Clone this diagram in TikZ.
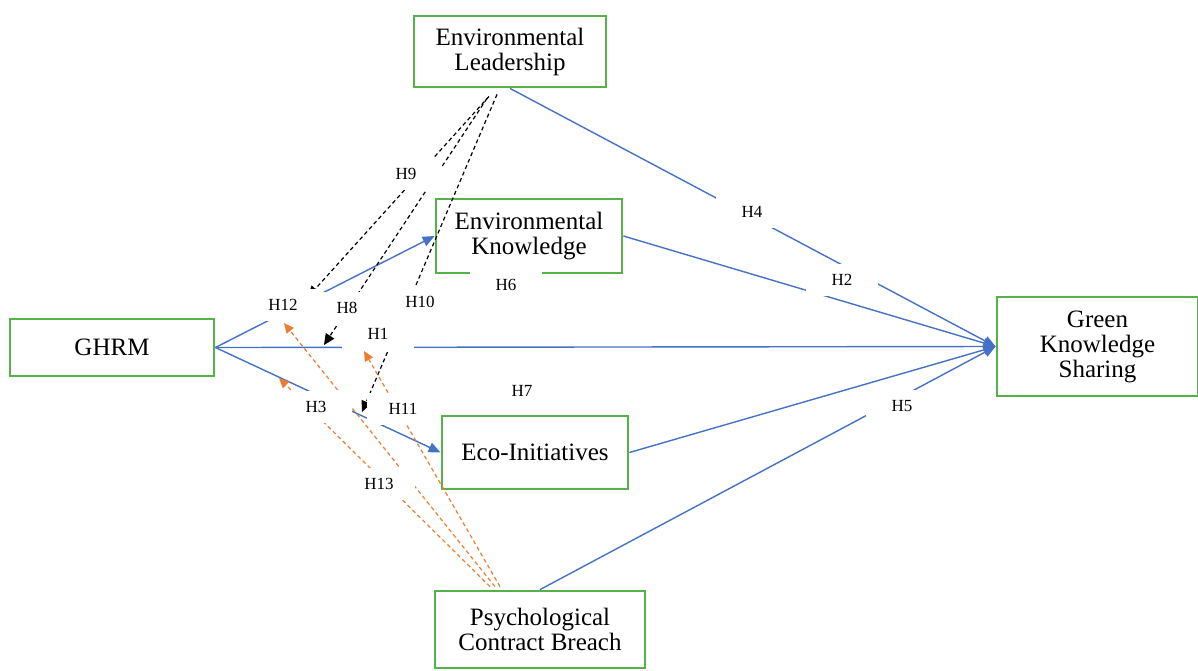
\documentclass[tikz,border=0pt]{standalone}
\usepackage{fontspec}
\setmainfont{Liberation Serif}
\usetikzlibrary{arrows.meta}

\definecolor{boxgreen}{RGB}{84,178,72}
\definecolor{linkblue}{RGB}{68,114,196}
\definecolor{modorange}{RGB}{237,125,49}

\begin{document}
\begin{tikzpicture}[x=0.5pt,y=-0.5pt,
		var/.style={draw=boxgreen,line width=1.4pt,fill=white,align=center,inner sep=2pt,font=\fontsize{12.5}{12.5}\selectfont},
		link/.style={draw=linkblue,line width=0.7pt,-{Triangle[length=6pt,width=5pt]}},
		modk/.style={draw=black,line width=0.6pt,dash pattern=on 2pt off 1.5pt,-{Triangle[length=5.5pt,width=5pt]}},
		modp/.style={draw=modorange,line width=0.6pt,dash pattern=on 2pt off 1.5pt,-{Triangle[length=5pt,width=4.5pt]}},
		hyp/.style={fill=white,minimum width=36pt,minimum height=16pt,inner sep=0pt,font=\fontsize{8.5}{10}\selectfont}]

			\useasboundingbox (0,0) rectangle (1198,670);

			\node[var,minimum width=96pt,minimum height=35.5pt] (el) at (510,51.5) {Environmental\\Leadership};
			\node[var,minimum width=93pt,minimum height=37pt] (ek) at (529,236) {Environmental\\Knowledge};
			\node[var,minimum width=102pt,minimum height=28.5pt] (ghrm) at (112,347.5) {GHRM};
			\node[var,minimum width=100.5pt,minimum height=49.5pt] (gks) at (1097.5,346.5) {Green\\Knowledge\\Sharing};
			\node[var,minimum width=93pt,minimum height=36.5pt] (ei) at (535,452.5) {Eco-Initiatives};
			\node[var,minimum width=105pt,minimum height=38.5pt] (pcb) at (540,629.5) {Psychological\\Contract Breach};

			\draw [link] (ghrm.east) -- (ek.west);
			\draw [link] (ghrm.east) -- (gks.west);
			\draw [link] (ghrm.east) -- (ei.west);
			\draw [link] (el.south) -- (gks.west);
			\draw [link] (ek.east) -- (gks.west);
			\draw [link] (ei.east) -- (gks.west);
			\draw [link] (pcb.north) -- (gks.west);

			\coordinate (ma) at (308,297);
			\coordinate (mb) at (324,345);
			\coordinate (mc) at (362,412);
			\coordinate (oa) at (284,323);
			\coordinate (ob) at (279,378);
			\coordinate (oc) at (364,351);

			\draw [modk] ([xshift=-10.5pt,yshift=-4pt]el.south) -- (ma);
			\draw [modk] ([xshift=-11.5pt,yshift=-5pt]el.south) -- (mb);
			\draw [modk] ([xshift=-6.5pt,yshift=-3pt]el.south) -- (mc);

			\draw [modp] ([xshift=-22.5pt,yshift=1.5pt]pcb.north) -- (oa);
			\draw [modp] ([xshift=-25pt,yshift=1.5pt]pcb.north) -- (ob);
			\draw [modp] ([xshift=-20pt,yshift=1.5pt]pcb.north) -- (oc);

			\node[hyp] (h9) at (406,174) {H9};
			\node[hyp] (h4) at (752,212) {H4};
			\node[hyp] (h2) at (842,280) {H2};
			\node[hyp] (h6) at (506,285) {H6};
			\node[hyp] (h10) at (420,302) {H10};
			\node[hyp] (h12) at (283,305) {H12};
			\node[hyp] (h1) at (378,334) {H1};
			\node[hyp] (h8) at (347,308) {H8};
			\node[hyp] (h7) at (522,391) {H7};
			\node[hyp] (h3) at (316,407) {H3};
			\node[hyp] (h11) at (403,409) {H11};
			\node[hyp] (h13) at (379,484) {H13};
			\node[hyp] (h5) at (902,406) {H5};

	\end{tikzpicture}
\end{document}
